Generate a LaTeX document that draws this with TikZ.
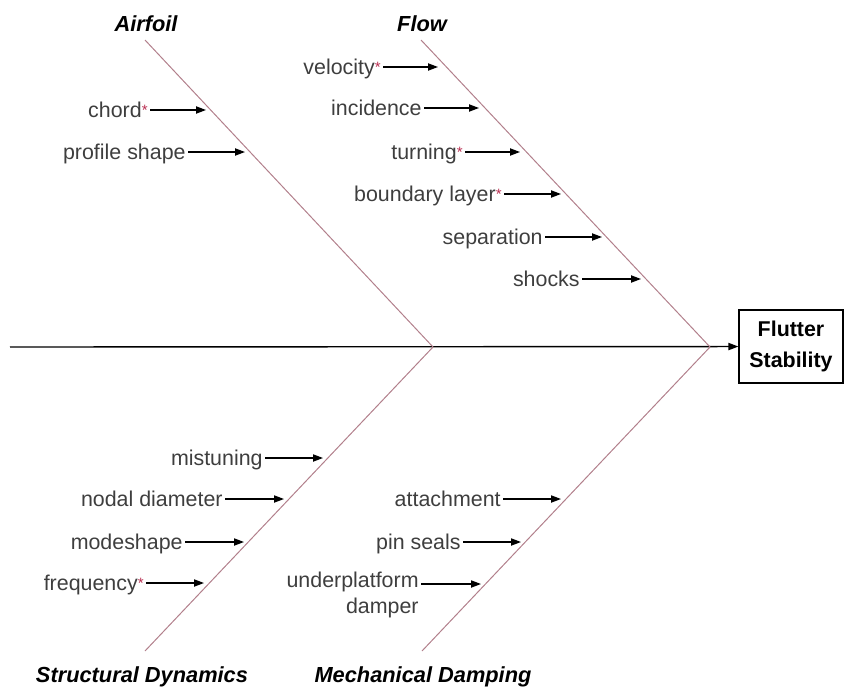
\documentclass[tikz,border=0pt]{standalone}
\usepackage{fontspec}
\setmainfont{Liberation Sans}
\usetikzlibrary{arrows.meta,positioning}
\definecolor{bonecol}{RGB}{178,128,140}
\definecolor{starcol}{RGB}{185,45,80}
\definecolor{causecol}{RGB}{62,62,62}
\newcommand{\redstar}{\raisebox{1.2pt}{\fontsize{7.5}{8}\selectfont\textcolor{starcol}{*}}}

\begin{document}
\begin{tikzpicture}[x=0.5pt,y=-0.5pt,>={Triangle[length=5pt,width=3.6pt]},
  font=\fontsize{10.7}{12.8}\selectfont,
  cause/.style={text=causecol,anchor=east,inner sep=1pt,text height=0.76em,text depth=0pt},
  title/.style={font=\fontsize{10.9}{12.8}\selectfont\bfseries\itshape,text height=0.76em,text depth=0pt},
  bone/.style={bonecol,line width=0.5pt},
  feed/.style={->,line width=0.65pt}]
  \useasboundingbox (0,0) rectangle (845,690);
  % spine and effect box
  \node[draw,line width=0.6pt,font=\fontsize{10.7}{15.5}\selectfont\bfseries,align=center,
        minimum width=52pt,minimum height=36.5pt] (flutter) at (791,346.5) {Flutter\\Stability};
  \coordinate (tail) at (10,347);
  \draw[feed,line width=0.7pt] (tail) -- (flutter);
  % bones
  \coordinate (j1) at (433,347);
  \coordinate (j2) at (710,347);
  \coordinate (af) at (145,40);
  \coordinate (fl) at (421,40);
  \coordinate (sd) at (145,651);
  \coordinate (md) at (422,651);
  \draw[bone] (af) -- (j1) -- (sd);
  \draw[bone] (fl) -- (j2) -- (md);
  % category titles
  \node[title] (t-af) at (146,24) {Airfoil};
  \node[title] (t-fl) at (422,24) {Flow};
  \node[title] (t-sd) at (142,675) {Structural Dynamics};
  \node[title] (t-md) at (423,675) {Mechanical Damping};
  % causes
  \foreach \id/\txt/\xs/\xt/\y in {
      chord/chord\redstar/150/206/110, profile/profile shape/188/245/152,
      velo/velocity\redstar/383/438/67, inci/incidence/424/479/108,
      turn/turning\redstar/465/520/152, blayer/boundary layer\redstar/504/561/194,
      sep/separation/545/602/237, shock/shocks/582/641/279,
      mist/mistuning/265/323/458, nodal/nodal diameter/225/284/499,
      mode/modeshape/185/244/542, freq/frequency\redstar/146/204/583,
      attach/attachment/503/561/499, pin/pin seals/463/521/542}
  {
    \coordinate (\id-tip) at (\xt,\y);
    \node[cause] (\id) at (\xs,\y) {\txt};
    \draw[feed] (\id) -- (\id-tip);
  }
  \coordinate (upd-tip) at (481,584);
  \node[text=causecol,anchor=east,inner sep=1pt,align=right] (upd) at (421,595) {underplatform\\damper};
  \draw[feed] (upd.east |- upd-tip) -- (upd-tip);
\end{tikzpicture}
\end{document}
